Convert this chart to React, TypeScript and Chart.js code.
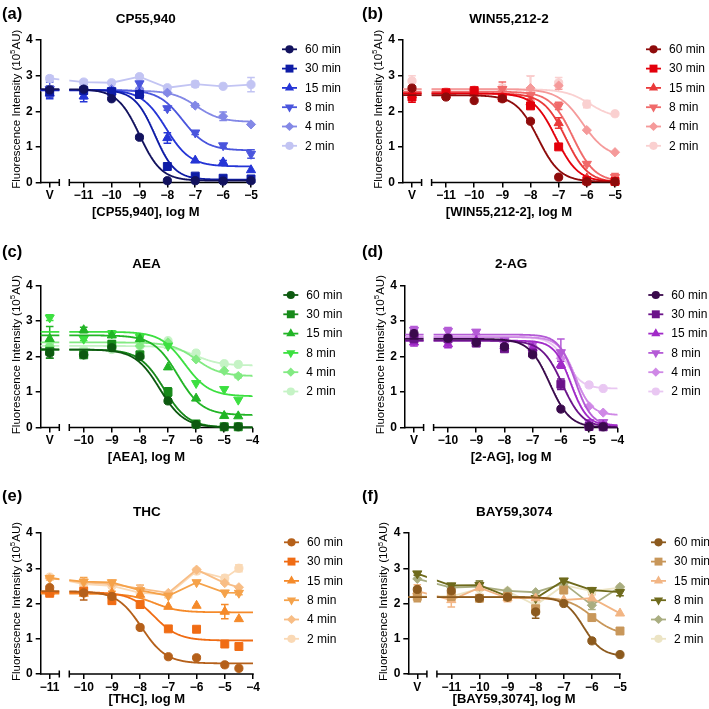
import React, { useEffect, useRef } from "react";
import { Chart, registerables } from "chart.js";

Chart.register(...registerables);

const FONT = "Arial, 'Liberation Sans', Helvetica, sans-serif";
Chart.defaults.font.family = FONT;
Chart.defaults.color = "#000";

// ---------------- DATA ----------------
const SERIES_NAMES = ["60 min", "30 min", "15 min", "8 min", "4 min", "2 min"];
const MARKERS = ["circle", "rect", "triangle", "triangleDown", "rectRot", "circle"];

// Fit parameters per series: [top, bottom, logEC50, hillSlope]; null = points joined by lines

// (a) CP55,940
const CP_FIRST_LABEL = "V";
const CP_DOSES = [-11, -10, -9, -8, -7, -6, -5];
const CP_TICKS = [-11, -10, -9, -8, -7, -6, -5];
const CP_VALUES = [
  [2.6, 2.62, 2.35, 1.27, 0.05, 0.05, 0.04, 0.05],
  [2.55, 2.58, 2.55, 2.47, 0.45, 0.18, 0.12, 0.1],
  [2.5, 2.42, 2.55, 2.5, 1.25, 0.62, 0.57, 0.35],
  [2.62, 2.55, 2.58, 2.78, 2.08, 1.4, 1.04, 0.8],
  [2.6, 2.62, 2.62, 2.62, 2.52, 2.16, 1.86, 1.63],
  [2.92, 2.82, 2.8, 2.97, 2.66, 2.76, 2.7, 2.75],
];
const CP_ERRORS = [
  [0.1, 0.05, 0, 0.05, 0, 0, 0, 0],
  [0.15, 0.1, 0.05, 0.05, 0, 0.05, 0.03, 0.03],
  [0.15, 0.15, 0.08, 0.1, 0.15, 0, 0.05, 0],
  [0.2, 0.2, 0.05, 0.22, 0.05, 0.05, 0.05, 0.12],
  [0.1, 0.08, 0.05, 0.05, 0.05, 0.05, 0.12, 0],
  [0.08, 0.05, 0, 0.05, 0, 0.08, 0, 0.2],
];
const CP_FITS = [
  [2.62, 0.05, -9.0, 1.1],
  [2.6, 0.08, -8.45, 1.2],
  [2.6, 0.45, -8.05, 1],
  [2.6, 0.9, -7.45, 1],
  [2.58, 1.7, -6.95, 1],
  null,
];

// (b) WIN55,212-2
const WIN_FIRST_LABEL = "V";
const WIN_DOSES = [-11, -10, -9, -8, -7, -6, -5];
const WIN_TICKS = [-11, -10, -9, -8, -7, -6, -5];
const WIN_VALUES = [
  [2.65, 2.4, 2.3, 2.35, 1.72, 0.15, 0.02, 0.02],
  [2.4, 2.52, 2.58, 2.38, 2.15, 1.0, 0.05, 0.03],
  [2.45, 2.45, 2.5, 2.4, 2.25, 1.67, 0.12, 0.03],
  [2.5, 2.5, 2.55, 2.62, 2.45, 2.15, 0.52, 0.15],
  [2.55, 2.5, 2.58, 2.6, 2.65, 2.72, 1.47, 0.85],
  [2.85, 2.55, 2.6, 2.65, 2.55, 2.8, 2.2, 1.93],
];
const WIN_ERRORS = [
  [0, 0.05, 0, 0, 0, 0, 0, 0],
  [0.15, 0.05, 0.05, 0.05, 0.08, 0, 0, 0],
  [0.1, 0.1, 0.05, 0.05, 0.05, 0.15, 0.03, 0],
  [0.15, 0.05, 0.1, 0.2, 0.1, 0.1, 0.05, 0.1],
  [0.1, 0.05, 0.05, 0.1, 0.35, 0.1, 0, 0],
  [0.15, 0.05, 0.05, 0.1, 0.45, 0.15, 0.1, 0],
];
const WIN_FITS = [
  [2.45, 0.02, -7.73, 1.1],
  [2.5, 0.02, -7.1, 1.1],
  [2.5, 0.0, -6.75, 1.1],
  [2.55, 0.02, -6.5, 1.1],
  [2.62, 0.7, -6.15, 1],
  [2.62, 1.8, -5.9, 1],
];

// (c) AEA
const AEA_FIRST_LABEL = "V";
const AEA_DOSES = [-10, -9, -8, -7, -6, -5, -4.5];
const AEA_TICKS = [-10, -9, -8, -7, -6, -5, -4];
const AEA_VALUES = [
  [2.1, 2.05, 2.25, 2.0, 0.75, 0.08, 0.02, 0.02],
  [2.15, 2.05, 2.35, 2.05, 1.0, 0.1, 0.02, 0.02],
  [2.5, 2.75, 2.6, 2.5, 1.7, 0.82, 0.33, 0.32],
  [3.1, 2.5, 2.65, 2.55, 2.3, 1.25, 1.08, 0.78],
  [2.3, 2.05, 2.3, 2.3, 2.4, 1.92, 1.6, 1.45],
  [2.28, 2.2, 2.2, 2.3, 2.45, 2.1, 1.8, 1.78],
];
const AEA_ERRORS = [
  [0.15, 0.05, 0.1, 0.05, 0, 0, 0, 0],
  [0.2, 0.05, 0.1, 0.05, 0.12, 0, 0, 0],
  [0.35, 0.08, 0.05, 0.05, 0, 0, 0, 0],
  [0.08, 0.05, 0.08, 0.05, 0.05, 0, 0, 0],
  [0.05, 0, 0.05, 0, 0, 0, 0, 0.05],
  [0, 0, 0.05, 0, 0, 0, 0, 0],
];
const AEA_FITS = [
  [2.2, 0.0, -7.3, 1],
  [2.2, 0.0, -7.15, 1],
  [2.6, 0.35, -6.65, 1],
  [2.7, 0.88, -6.4, 1],
  [2.4, 1.45, -6.0, 1],
  [2.3, 1.75, -6.0, 1],
];

// (d) 2-AG
const AG_FIRST_LABEL = "V";
const AG_DOSES = [-10, -9, -8, -7, -6, -5, -4.5];
const AG_TICKS = [-10, -9, -8, -7, -6, -5, -4];
const AG_VALUES = [
  [2.65, 2.52, 2.4, 2.28, 2.05, 0.52, 0.02, 0.02],
  [2.5, 2.5, 2.38, 2.22, 2.1, 1.22, 0.03, 0.02],
  [2.4, 2.35, 2.45, 2.3, 2.25, 1.77, 0.08, 0.06],
  [2.75, 2.72, 2.7, 2.45, 2.35, 2.12, 0.15, 0.15],
  [2.55, 2.5, 2.5, 2.4, 2.3, 1.95, 0.6, 0.42],
  [2.6, 2.55, 2.55, 2.45, 2.35, 2.05, 1.2, 1.1],
];
const AG_ERRORS = [
  [0.1, 0, 0.05, 0.05, 0.05, 0, 0, 0],
  [0.15, 0.05, 0.05, 0.05, 0, 0.15, 0, 0],
  [0.1, 0.1, 0.05, 0.05, 0, 0.1, 0, 0],
  [0.1, 0.1, 0.05, 0.05, 0.05, 0.38, 0, 0],
  [0.05, 0.05, 0, 0, 0, 0, 0, 0],
  [0, 0, 0, 0, 0, 0, 0, 0],
];
const AG_FITS = [
  [2.5, 0.0, -6.4, 1.2],
  [2.45, 0.0, -5.95, 1.2],
  [2.45, 0.05, -5.65, 1.5],
  [2.62, 0.05, -5.5, 1.5],
  [2.55, 0.35, -5.5, 1.5],
  [2.55, 1.1, -5.8, 1.5],
];

// (e) THC
const THC_FIRST_LABEL = "\u221211";
const THC_DOSES = [-10, -9, -8, -7, -6, -5, -4.5];
const THC_TICKS = [-10, -9, -8, -7, -6, -5, -4];
const THC_VALUES = [
  [2.45, 2.3, 2.2, 1.32, 0.49, 0.46, 0.26, 0.16],
  [2.29, 2.35, 2.08, 1.97, 1.28, 1.27, 0.85, 0.78],
  [2.32, 2.28, 2.3, 2.25, 1.91, 1.94, 1.77, 1.56],
  [2.72, 2.62, 2.6, 2.37, 2.22, 2.6, 2.31, 2.3],
  [2.72, 2.6, 2.55, 2.42, 2.3, 2.96, 2.58, 2.46],
  [2.75, 2.55, 2.5, 2.3, 2.25, 2.92, 2.72, 3.0],
];
const THC_ERRORS = [
  [0, 0.2, 0.05, 0.05, 0, 0, 0, 0],
  [0.05, 0.1, 0.08, 0, 0, 0, 0, 0],
  [0, 0.05, 0.05, 0.05, 0, 0, 0.2, 0],
  [0.05, 0.12, 0.05, 0.15, 0.05, 0, 0, 0.05],
  [0, 0.05, 0.05, 0.1, 0, 0, 0, 0],
  [0.05, 0.05, 0, 0.1, 0, 0.08, 0.08, 0.1],
];
const THC_FITS = [
  [2.35, 0.3, -7.95, 1],
  [2.32, 0.95, -7.5, 1],
  [2.28, 1.75, -7.5, 1],
  null,
  null,
  null,
];

// (f) BAY59,3074
const BAY_FIRST_LABEL = "V";
const BAY_DOSES = [-11, -10, -9, -8, -7, -6, -5];
const BAY_TICKS = [-11, -10, -9, -8, -7, -6, -5];
const BAY_VALUES = [
  [2.4, 2.36, 2.15, 2.18, 1.76, 2.0, 0.94, 0.55],
  [2.2, 2.2, 2.15, 2.2, 1.85, 2.38, 1.6, 1.22],
  [2.35, 2.1, 2.45, 2.15, 2.15, 2.1, 2.15, 1.72],
  [2.85, 2.51, 2.52, 2.2, 2.15, 2.65, 2.38, 2.32],
  [2.7, 2.45, 2.48, 2.36, 2.32, 2.57, 1.95, 2.47],
  [2.2, 2.2, 2.42, 2.35, 1.95, 2.52, 2.35, 2.45],
];
const BAY_ERRORS = [
  [0.05, 0, 0, 0, 0.18, 0, 0, 0],
  [0.15, 0.05, 0.05, 0.05, 0.15, 0.05, 0, 0],
  [0.18, 0.2, 0.05, 0.1, 0.05, 0, 0.1, 0],
  [0.05, 0.05, 0.12, 0.05, 0, 0.05, 0.05, 0.1],
  [0, 0, 0, 0, 0, 0, 0.12, 0],
  [0, 0.1, 0, 0, 0, 0, 0.05, 0],
];
const BAY_FITS = [
  [2.18, 0.5, -6.3, 1.3],
  [2.18, 1.1, -6.0, 1],
  null,
  null,
  null,
  null,
];

// ---------------- STYLES / LAYOUT ----------------
const BLUES = ["#12125e", "#0e1ca6", "#2535d6", "#4a55dd", "#8388e6", "#c2c4f3"];
const REDS = ["#8e0b0b", "#e3000b", "#ea3a3a", "#f06a6a", "#f59a9a", "#fad0d0"];
const GREENS = ["#0d5a10", "#178a1a", "#22b526", "#3ce040", "#82ea82", "#c5f3c5"];
const PURPLES = ["#3a0a4c", "#6b138a", "#a12ac8", "#b45ad6", "#cf88e6", "#e9c7f2"];
const ORANGES = ["#b5601a", "#f06c14", "#f58a2a", "#f5a24a", "#f8bd85", "#fad9b5"];
const BROWNS = ["#8c5a1e", "#c8975a", "#f2b584", "#6e6a1c", "#a9ad80", "#ece4c4"];

const MARKER_RADIUS: Record<string, number> = {
  circle: 4.1,
  rect: 5.6,
  triangle: 5.3,
  triangleDown: 5.3,
  rectRot: 4.6,
};

const FIRST_TICK_OFFSET = 43;
const V_OFFSET = 9;
const GAP_START = 18.6;
const GAP_END = 28.6;
const Y_AXIS_W = 30;
const X_AXIS_H = 22;

type Box = { x: number; y: number; w: number; h: number };
type Rect = { l: number; r: number; t: number; b: number };
type PanelDef = {
  id: string;
  label: string;
  title: string;
  xTitle: string;
  firstLabel: string;
  doses: number[];
  ticks: number[];
  values: number[][];
  errors: number[][];
  fits: (number[] | null)[];
  colors: string[];
  box: Box;
  plot: Rect;
  labelPos: [number, number];
  xTitleGap: number;
};

const COL = [
  { x: 0, w: 355 },
  { x: 355, w: 354 },
];
const ROW = [
  { y: 0, h: 245 },
  { y: 245, h: 245 },
  { y: 490, h: 219 },
];
const boxOf = (c: number, r: number): Box => ({ x: COL[c].x, w: COL[c].w, y: ROW[r].y, h: ROW[r].h });

const PANELS: PanelDef[] = [
  {
    id: "a", label: "(a)", title: "CP55,940", xTitle: "[CP55,940], log M",
    firstLabel: CP_FIRST_LABEL, doses: CP_DOSES, ticks: CP_TICKS,
    values: CP_VALUES, errors: CP_ERRORS, fits: CP_FITS, colors: BLUES,
    box: boxOf(0, 0), plot: { l: 40.7, r: 251, t: 40, b: 182.5 }, labelPos: [2, 14.5], xTitleGap: 30,
  },
  {
    id: "b", label: "(b)", title: "WIN55,212-2", xTitle: "[WIN55,212-2], log M",
    firstLabel: WIN_FIRST_LABEL, doses: WIN_DOSES, ticks: WIN_TICKS,
    values: WIN_VALUES, errors: WIN_ERRORS, fits: WIN_FITS, colors: REDS,
    box: boxOf(1, 0), plot: { l: 403, r: 615, t: 40, b: 182.5 }, labelPos: [362, 14], xTitleGap: 30,
  },
  {
    id: "c", label: "(c)", title: "AEA", xTitle: "[AEA], log M",
    firstLabel: AEA_FIRST_LABEL, doses: AEA_DOSES, ticks: AEA_TICKS,
    values: AEA_VALUES, errors: AEA_ERRORS, fits: AEA_FITS, colors: GREENS,
    box: boxOf(0, 1), plot: { l: 40.7, r: 252.3, t: 285.7, b: 427.5 }, labelPos: [2, 252.5], xTitleGap: 30,
  },
  {
    id: "d", label: "(d)", title: "2-AG", xTitle: "[2-AG], log M",
    firstLabel: AG_FIRST_LABEL, doses: AG_DOSES, ticks: AG_TICKS,
    values: AG_VALUES, errors: AG_ERRORS, fits: AG_FITS, colors: PURPLES,
    box: boxOf(1, 1), plot: { l: 405, r: 617.3, t: 285.7, b: 427.5 }, labelPos: [362, 252.5], xTitleGap: 30,
  },
  {
    id: "e", label: "(e)", title: "THC", xTitle: "[THC], log M",
    firstLabel: THC_FIRST_LABEL, doses: THC_DOSES, ticks: THC_TICKS,
    values: THC_VALUES, errors: THC_ERRORS, fits: THC_FITS, colors: ORANGES,
    box: boxOf(0, 2), plot: { l: 40.7, r: 253, t: 533, b: 674 }, labelPos: [2, 496.5], xTitleGap: 25.5,
  },
  {
    id: "f", label: "(f)", title: "BAY59,3074", xTitle: "[BAY59,3074], log M",
    firstLabel: BAY_FIRST_LABEL, doses: BAY_DOSES, ticks: BAY_TICKS,
    values: BAY_VALUES, errors: BAY_ERRORS, fits: BAY_FITS, colors: BROWNS,
    box: boxOf(1, 2), plot: { l: 408.3, r: 620, t: 533, b: 674 }, labelPos: [362, 496.5], xTitleGap: 25.5,
  },
];

// ---------------- HELPERS ----------------
const fmtTick = (v: number) => (v < 0 ? "\u2212" + Math.abs(v) : String(v));

function drawMarker(ctx: CanvasRenderingContext2D, kind: string, x: number, y: number, color: string) {
  ctx.save();
  ctx.fillStyle = color;
  ctx.beginPath();
  const r = MARKER_RADIUS[kind];
  if (kind === "circle") {
    ctx.arc(x, y, r, 0, Math.PI * 2);
  } else if (kind === "rect") {
    const s = r * Math.SQRT1_2;
    ctx.rect(x - s, y - s, 2 * s, 2 * s);
  } else if (kind === "triangle" || kind === "triangleDown") {
    const base = kind === "triangle" ? -Math.PI / 2 : Math.PI / 2;
    for (let k = 0; k < 3; k++) {
      const a = base + (k * 2 * Math.PI) / 3;
      const px = x + Math.cos(a) * r;
      const py = y + Math.sin(a) * r;
      if (k === 0) ctx.moveTo(px, py);
      else ctx.lineTo(px, py);
    }
    ctx.closePath();
  } else {
    ctx.moveTo(x, y - r);
    ctx.lineTo(x + r, y);
    ctx.lineTo(x, y + r);
    ctx.lineTo(x - r, y);
    ctx.closePath();
  }
  ctx.fill();
  ctx.restore();
}

function buildConfig(p: PanelDef): any {
  const L = p.plot.l - p.box.x;
  const R = p.plot.r - p.box.x;
  const T = p.plot.t - p.box.y;
  const B = p.plot.b - p.box.y;
  const firstTick = p.ticks[0];
  const lastTick = p.ticks[p.ticks.length - 1];
  const ppd = (R - (L + FIRST_TICK_OFFSET)) / (lastTick - firstTick);
  const xMin = firstTick - FIRST_TICK_OFFSET / ppd;
  const xMax = lastTick;
  const vPos = xMin + V_OFFSET / ppd;
  const gapA = xMin + GAP_START / ppd;
  const gapB = xMin + GAP_END / ppd;
  const xs = [vPos, ...p.doses];

  const datasets: any[] = [];
  p.values.forEach((vals, i) => {
    const color = p.colors[i];
    const marker = MARKERS[i];
    const fit = p.fits[i];
    datasets.push({
      label: SERIES_NAMES[i],
      data: xs.map((x, j) => ({ x, y: vals[j] })),
      errs: p.errors[i],
      showLine: !fit,
      borderColor: color,
      backgroundColor: color,
      borderWidth: 1.8,
      pointStyle: marker === "triangleDown" ? "triangle" : marker,
      pointRotation: marker === "triangleDown" ? 180 : 0,
      pointRadius: MARKER_RADIUS[marker],
      pointBorderWidth: 1,
      pointBackgroundColor: color,
      pointBorderColor: color,
      clip: false,
      order: i,
    });
    if (fit) {
      const [top, bottom, logEC50, hill] = fit;
      const curve: { x: number; y: number }[] = [];
      const n = 400;
      for (let k = 0; k <= n; k++) {
        const x = xMin + ((xMax - xMin) * k) / n;
        curve.push({ x, y: bottom + (top - bottom) / (1 + Math.pow(10, (x - logEC50) * hill)) });
      }
      datasets.push({
        label: SERIES_NAMES[i] + " fit",
        data: curve,
        showLine: true,
        borderColor: color,
        backgroundColor: color,
        borderWidth: 1.8,
        pointRadius: 0,
        clip: false,
        order: i,
      });
    }
  });

  const decorPlugin = {
    id: "panelDecor",
    beforeDatasetsDraw(chart: any) {
      const ctx: CanvasRenderingContext2D = chart.ctx;
      const sx = chart.scales.x;
      const sy = chart.scales.y;
      const ca = chart.chartArea;
      const ga = sx.getPixelForValue(gapA);
      const gb = sx.getPixelForValue(gapB);
      // broken x axis
      ctx.save();
      ctx.strokeStyle = "#000";
      ctx.lineWidth = 1.5;
      ctx.beginPath();
      ctx.moveTo(ca.left - 0.75, ca.bottom);
      ctx.lineTo(ga, ca.bottom);
      ctx.moveTo(gb, ca.bottom);
      ctx.lineTo(ca.right + 0.75, ca.bottom);
      ctx.moveTo(ga, ca.bottom - 3.5);
      ctx.lineTo(ga, ca.bottom + 3.5);
      ctx.moveTo(gb, ca.bottom - 3.5);
      ctx.lineTo(gb, ca.bottom + 3.5);
      ctx.stroke();
      ctx.restore();
      // clip out the axis break
      ctx.save();
      ctx.beginPath();
      ctx.rect(0, 0, ga, chart.height);
      ctx.rect(gb, 0, chart.width - gb, chart.height);
      ctx.clip();
      // error bars
      chart.data.datasets.forEach((ds: any, di: number) => {
        if (!ds.errs) return;
        const meta = chart.getDatasetMeta(di);
        ctx.save();
        ctx.strokeStyle = ds.borderColor;
        ctx.lineWidth = 1.5;
        ds.data.forEach((pt: any, j: number) => {
          const e = ds.errs[j];
          if (!e) return;
          const el = meta.data[j];
          if (!el) return;
          const x = el.x;
          const y1 = sy.getPixelForValue(pt.y + e);
          const y2 = sy.getPixelForValue(Math.max(0, pt.y - e));
          ctx.beginPath();
          ctx.moveTo(x, y1);
          ctx.lineTo(x, y2);
          ctx.moveTo(x - 3.8, y1);
          ctx.lineTo(x + 3.8, y1);
          ctx.moveTo(x - 3.8, y2);
          ctx.lineTo(x + 3.8, y2);
          ctx.stroke();
        });
        ctx.restore();
      });
    },
    afterDatasetsDraw(chart: any) {
      chart.ctx.restore();
    },
    afterDraw(chart: any) {
      const ctx: CanvasRenderingContext2D = chart.ctx;
      const ca = chart.chartArea;
      const cx = (ca.left + ca.right) / 2;
      ctx.save();
      ctx.fillStyle = "#000";
      // panel letter
      ctx.font = `bold 16.5px ${FONT}`;
      ctx.textAlign = "left";
      ctx.textBaseline = "middle";
      ctx.fillText(p.label, p.labelPos[0] - p.box.x, p.labelPos[1] - p.box.y);
      // title
      ctx.font = `bold 13.5px ${FONT}`;
      ctx.textAlign = "center";
      ctx.fillText(p.title, cx, ca.top - 21);
      // x title
      ctx.font = `bold 13px ${FONT}`;
      ctx.fillText(p.xTitle, cx, ca.bottom + p.xTitleGap);
      // y title with superscript
      const main = "Fluorescence Intensity (10";
      const sup = "5";
      const rest = "AU)";
      const fMain = `11.5px ${FONT}`;
      const fSup = `8px ${FONT}`;
      ctx.font = fMain;
      const w1 = ctx.measureText(main).width;
      const w3 = ctx.measureText(rest).width;
      ctx.font = fSup;
      const w2 = ctx.measureText(sup).width;
      const total = w1 + w2 + w3;
      ctx.translate(ca.left - 24, (ca.top + ca.bottom) / 2 - 2);
      ctx.rotate(-Math.PI / 2);
      ctx.textAlign = "left";
      ctx.textBaseline = "middle";
      let xx = -total / 2;
      ctx.font = fMain;
      ctx.fillText(main, xx, 0);
      xx += w1;
      ctx.font = fSup;
      ctx.fillText(sup, xx, -4);
      xx += w2;
      ctx.font = fMain;
      ctx.fillText(rest, xx, 0);
      ctx.restore();

      // legend
      ctx.save();
      ctx.font = `12px ${FONT}`;
      ctx.textAlign = "left";
      ctx.textBaseline = "middle";
      SERIES_NAMES.forEach((name, i) => {
        const y = ca.top + 9.3 + i * 19.3;
        const color = p.colors[i];
        ctx.strokeStyle = color;
        ctx.lineWidth = 1.8;
        ctx.beginPath();
        ctx.moveTo(ca.right + 31, y);
        ctx.lineTo(ca.right + 46, y);
        ctx.stroke();
        drawMarker(ctx, MARKERS[i], ca.right + 38.5, y, color);
        ctx.fillStyle = "#000";
        ctx.fillText(name, ca.right + 54, y + 0.5);
      });
      ctx.restore();
    },
  };

  return {
    type: "line",
    data: { datasets },
    options: {
      animation: false,
      responsive: false,
      devicePixelRatio: 1,
      events: [],
      layout: {
        padding: {
          left: L - Y_AXIS_W,
          right: p.box.w - R,
          top: T,
          bottom: p.box.h - B - X_AXIS_H,
        },
      },
      elements: { line: { tension: 0 } },
      plugins: {
        legend: { display: false },
        title: { display: false },
        tooltip: { enabled: false },
      },
      scales: {
        x: {
          type: "linear",
          min: xMin,
          max: xMax,
          afterBuildTicks: (s: any) => {
            s.ticks = [vPos, ...p.ticks].map((v) => ({ value: v }));
          },
          afterFit: (s: any) => {
            s.height = X_AXIS_H;
          },
          ticks: {
            autoSkip: false,
            maxRotation: 0,
            minRotation: 0,
            padding: 1,
            color: "#000",
            font: { size: 12, weight: "bold", family: FONT },
            callback: (v: number, idx: number) => (idx === 0 ? p.firstLabel : fmtTick(v)),
          },
          grid: {
            display: true,
            drawOnChartArea: false,
            drawTicks: true,
            tickLength: 5,
            color: "#000",
            lineWidth: 1.5,
          },
          border: { display: false },
        },
        y: {
          type: "linear",
          min: 0,
          max: 4,
          afterFit: (s: any) => {
            s.width = Y_AXIS_W;
          },
          ticks: {
            stepSize: 1,
            padding: 3,
            color: "#000",
            font: { size: 12, weight: "bold", family: FONT },
          },
          grid: {
            display: true,
            drawOnChartArea: false,
            drawTicks: true,
            tickLength: 5,
            color: "#000",
            lineWidth: 1.5,
          },
          border: { display: true, color: "#000", width: 1.5 },
        },
      },
    },
    plugins: [decorPlugin],
  };
}

function PanelChart({ p }: { p: PanelDef }) {
  const ref = useRef<HTMLCanvasElement | null>(null);
  useEffect(() => {
    if (!ref.current) return;
    const chart = new Chart(ref.current, buildConfig(p));
    return () => chart.destroy();
  }, [p]);
  return (
    <canvas
      ref={ref}
      width={p.box.w}
      height={p.box.h}
      style={{ position: "absolute", left: p.box.x, top: p.box.y, width: p.box.w, height: p.box.h }}
    />
  );
}

export default function App() {
  return (
    <div
      style={{
        position: "absolute",
        left: 0,
        top: 0,
        width: 709,
        height: 709,
        background: "#fff",
        overflow: "hidden",
      }}
    >
      {PANELS.map((p) => (
        <PanelChart key={p.id} p={p} />
      ))}
    </div>
  );
}
